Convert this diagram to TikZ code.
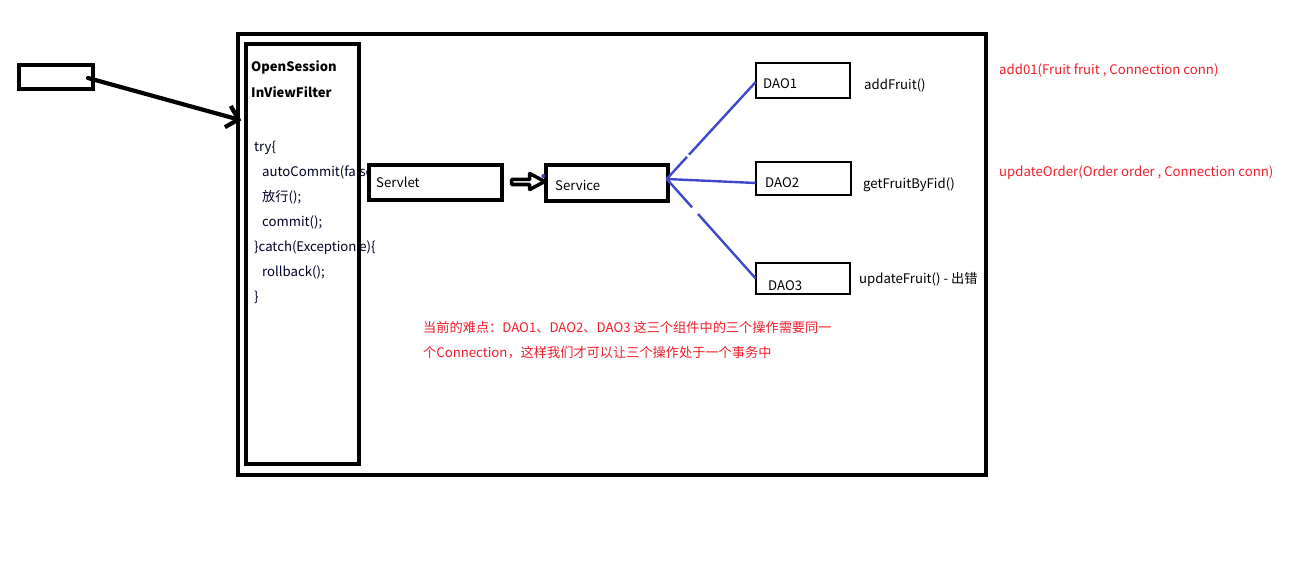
\documentclass[tikz,border=0pt]{standalone}
\usepackage{fontspec}
\setmainfont{Noto Sans CJK SC}
\usetikzlibrary{calc,arrows.meta}
\definecolor{redtxt}{RGB}{240,30,40}
\definecolor{blueln}{RGB}{63,72,204}
\begin{document}
\begin{tikzpicture}[x=1pt,y=-1pt,
  box/.style={draw=black,line width=3.4pt,fill=white,inner sep=0pt},
  thinbox/.style={draw=black,line width=2.6pt,fill=white,inner sep=0pt},
  txt/.style={anchor=west,inner sep=0pt,font=\fontsize{13.2}{15}\selectfont},
  codetxt/.style={txt,text=black!85!blue},
  redlabel/.style={txt,text=redtxt},
  blueline/.style={draw=blueln,line width=2.4pt}]
\useasboundingbox (0,0) rectangle (1297,564);
% outer frame
\node[box,fill=none,minimum width=748pt,minimum height=441pt] (outer) at (612,254.5) {};
% source box
\node[box,line width=4pt,minimum width=74pt,minimum height=24pt] (src) at (56,77) {};
% filter text (drawn before filter box border)
\node[txt,font=\fontsize{13}{15}\selectfont\bfseries] (t1) at (251,67.5) {OpenSession};
\node[txt,font=\fontsize{13}{15}\selectfont\bfseries] (t2) at (251,92.5) {InViewFilter};
\node[codetxt] (c1) at (254,147.5) {try\{};
\node[codetxt] (c2) at (262,172.5) {autoCommit(false);};
\node[codetxt] (c3) at (262,197.5) {放行();};
\node[codetxt] (c4) at (262,222.5) {commit();};
\node[codetxt] (c5) at (254,247.5) {\}catch(Exception e)\{};
\node[codetxt] (c6) at (262,272.5) {rollback();};
\node[codetxt] (c7) at (254,297.5) {\}};
% filter box border
\node[box,fill=none,minimum width=113pt,minimum height=420pt] (filter) at (302.5,254) {};
% servlet & service
\node[box,minimum width=133pt,minimum height=35pt] (servlet) at (435.5,182.5) {};
\node[txt] (servlettxt) at (376,182.5) {Servlet};
\node[box,minimum width=122pt,minimum height=36pt] (service) at (607,183) {};
\node[txt] (servicetxt) at (555,185.5) {Service};
% DAO boxes
\node[thinbox,minimum width=94pt,minimum height=35pt] (dao1) at (803,80.5) {};
\node[txt] (dao1txt) at (763,83.5) {DAO1};
\node[thinbox,minimum width=95pt,minimum height=33pt] (dao2) at (803.5,178.5) {};
\node[txt] (dao2txt) at (765,182.5) {DAO2};
\node[thinbox,minimum width=94pt,minimum height=31pt] (dao3) at (803,278.5) {};
\node[txt] (dao3txt) at (768,285.5) {DAO3};
% method labels
\node[txt] (m1) at (864,85.5) {addFruit()};
\node[txt] (m2) at (863,184.5) {getFruitByFid()};
\node[txt] (m3) at (859,279.5) {updateFruit() - 出错};
% red labels
\node[redlabel] (r1) at (999,70.5) {add01(Fruit fruit , Connection conn)};
\node[redlabel] (r2) at (999,172.5) {updateOrder(Order order , Connection conn)};
\node[redlabel] (r3) at (423,327.5) {当前的难点：DAO1、DAO2、DAO3 这三个组件中的三个操作需要同一};
\node[redlabel] (r4) at (423,352.5) {个Connection，这样我们才可以让三个操作处于一个事务中};
% arrow from source to filter
\coordinate (arrS) at ($(src.east)+(-7,1)$);
\coordinate (arrE) at ($(filter.north west)+(-3,78)$);
\draw[line width=4.2pt,line cap=round,-{Straight Barb[length=11pt,width=22pt,line width=4.2pt]}] (arrS) -- (arrE);
% hollow arrow servlet -> service
\draw[line width=3.5pt,line join=round,fill=white]
  ($(servlet.east)+(8,-3)$) -- ($(servlet.east)+(26,-3)$) -- ($(servlet.east)+(26,-9)$)
  -- ($(servlet.east)+(41,-1)$) -- ($(servlet.east)+(26,7)$) -- ($(servlet.east)+(26,2)$)
  -- ($(servlet.east)+(8,2)$) -- cycle;
\fill[blueln] ($(service.west)+(-1,-7)$) circle (2pt);
% blue lines from service to DAOs
\coordinate (hub) at ($(service.east)+(-3,-4)$);
\draw[blueline,dash pattern=on 30pt off 3pt on 300pt] (hub) -- ($(dao1.west)+(1,1.5)$);
\draw[blueline] (hub) -- ($(dao2.west)+(1,4.5)$);
\draw[blueline,dash pattern=on 38pt off 9pt on 300pt] (hub) -- ($(dao3.west)+(1,0)$);
\end{tikzpicture}
\end{document}
